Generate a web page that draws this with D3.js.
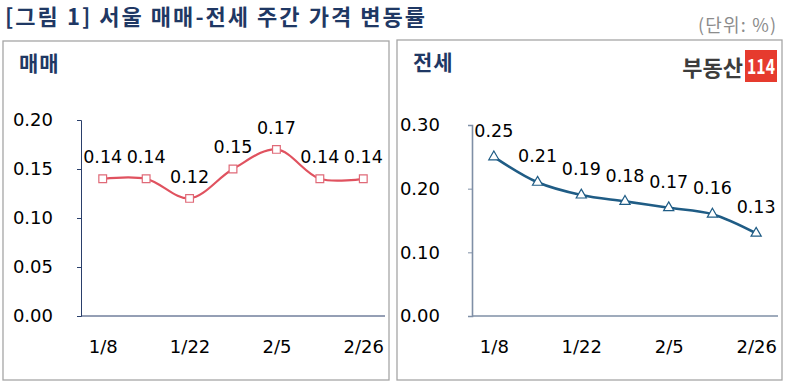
<!DOCTYPE html>
<html>
<head>
  <meta charset="utf-8">
  <title>서울 매매-전세 주간 가격 변동률</title>
  <script src="https://d3js.org/d3.v7.min.js"></script>
</head>
<style>
  body { margin: 0; background: #fff; }
  svg text { font-family: "Noto Sans CJK KR", "Noto Sans", sans-serif; }
  svg text.num { font-family: "DejaVu Sans", sans-serif; }
</style>
<body>
</body>
<script>

  // weeks (2/19 skipped in the source)
  var weeks = ['1/8', '1/15', '1/22', '1/29', '2/5', '2/12', '2/26'];
  var shownWeeks = ['1/8', '1/22', '2/5', '2/26'];

  var saleValues = [0.14, 0.14, 0.12, 0.15, 0.17, 0.14, 0.14];
  var jeonseValues = [0.25, 0.21, 0.19, 0.18, 0.17, 0.16, 0.13];

  var saleTicks = [0, 0.05, 0.10, 0.15, 0.20];
  var jeonseTicks = [0, 0.10, 0.20, 0.30];

  var W = 791, H = 387;
  var navy = '#1f3864';

  var svg = d3.select('body').append('svg')
    .attr('width', W)
    .attr('height', H);

  svg.append('rect').attr('width', W).attr('height', H).attr('fill', '#fff');

  // title + unit
  svg.append('text')
    .attr('x', 5).attr('y', 25)
    .attr('textLength', 420).attr('lengthAdjust', 'spacing')
    .style('font-size', '22px').style('font-weight', 'bold')
    .attr('fill', navy)
    .text('[그림 1] 서울 매매-전세 주간 가격 변동률');

  svg.append('text')
    .attr('x', 698).attr('y', 32)
    .attr('textLength', 78).attr('lengthAdjust', 'spacing')
    .style('font-size', '18px')
    .attr('fill', '#8c8c8c')
    .text('(단위: %)');

  function panel(opt) {
    var g = svg.append('g');

    g.append('rect')
      .attr('x', opt.box[0]).attr('y', opt.box[1])
      .attr('width', opt.box[2]).attr('height', opt.box[3])
      .attr('fill', 'none')
      .attr('stroke', '#a6a6a6')
      .attr('stroke-width', 1.3);

    g.append('text')
      .attr('x', opt.box[0] + 16).attr('y', opt.box[1] + 30)
      .style('font-size', '21px').style('font-weight', 'bold')
      .style('letter-spacing', '1px')
      .attr('fill', navy)
      .text(opt.name);

    var x = d3.scalePoint()
      .domain(weeks)
      .range([opt.left, opt.right])
      .padding(0.5);

    var y = d3.scaleLinear()
      .domain([0, d3.max(opt.ticks)])
      .range([opt.bottom, opt.top]);

    // y axis
    var ya = g.append('g')
      .attr('transform', 'translate(' + opt.left + ',0)')
      .call(d3.axisLeft(y).tickValues(opt.ticks).tickFormat(d3.format('.2f')).tickSize(4).tickPadding(opt.yPad));
    ya.select('.domain').attr('stroke', opt.axisColor).attr('stroke-width', opt.axisWidth);
    ya.selectAll('.tick line').attr('stroke', opt.axisColor);
    ya.selectAll('.tick text')
      .attr('class', 'num')
      .style('font-size', '18px')
      .attr('fill', '#000');

    // x axis
    var xa = g.append('g')
      .attr('transform', 'translate(0,' + opt.bottom + ')')
      .call(d3.axisBottom(x).tickSize(0).tickPadding(24)
        .tickFormat(function(d) { return shownWeeks.indexOf(d) >= 0 ? d : ''; }));
    xa.select('.domain').attr('stroke', opt.axisColor).attr('stroke-width', opt.axisWidth)
      .attr('d', 'M' + opt.left + ',0H' + opt.right);
    xa.selectAll('.tick text')
      .attr('class', 'num')
      .style('font-size', '18px')
      .attr('fill', '#000');

    var line = d3.line()
      .x(function(d, i) { return x(weeks[i]); })
      .y(function(d) { return y(d); })
      .curve(d3.curveCatmullRom.alpha(0.5));

    g.append('path')
      .datum(opt.values)
      .attr('d', line)
      .attr('fill', 'none')
      .attr('stroke', opt.color)
      .attr('stroke-width', opt.lineWidth);

    var sym = d3.symbol().type(opt.symbol).size(opt.symbolSize);
    g.selectAll('.mark')
      .data(opt.values)
      .enter().append('path')
        .attr('class', 'mark')
        .attr('transform', function(d, i) { return 'translate(' + x(weeks[i]) + ',' + y(d) + ')'; })
        .attr('d', sym)
        .attr('fill', '#fff')
        .attr('stroke', opt.markColor)
        .attr('stroke-width', 1.2);

    g.selectAll('.lbl')
      .data(opt.values)
      .enter().append('text')
        .attr('class', 'lbl num')
        .attr('x', function(d, i) { return x(weeks[i]); })
        .attr('y', function(d) { return y(d) - opt.labelOffset; })
        .attr('dy', '0.35em')
        .attr('text-anchor', 'middle')
        .style('font-size', '17.5px')
        .attr('fill', '#000')
        .text(function(d) { return d3.format('.2f')(d); });

    return g;
  }

  panel({
    name: '매매',
    box: [3, 41, 386, 339],
    left: 81, right: 385, top: 120, bottom: 316,
    ticks: saleTicks,
    values: saleValues,
    color: '#e0525f',
    markColor: '#e06a78',
    lineWidth: 2.2,
    symbol: d3.symbolSquare,
    symbolSize: 60,
    axisColor: '#2a3f6b',
    axisWidth: 1,
    yPad: 24,
    labelOffset: 22
  });

  var right = panel({
    name: '전세',
    box: [397, 40, 385, 340],
    left: 472, right: 778, top: 125, bottom: 316,
    ticks: jeonseTicks,
    values: jeonseValues,
    color: '#1f5c85',
    markColor: '#1f5c85',
    lineWidth: 2.6,
    symbol: d3.symbolTriangle,
    symbolSize: 45,
    axisColor: '#7f8fa6',
    axisWidth: 1.6,
    yPad: 28,
    labelOffset: 26
  });

  // logo
  right.append('text')
    .attr('x', 743).attr('y', 76)
    .attr('text-anchor', 'end')
    .style('font-size', '22px').style('font-weight', 'bold')
    .attr('fill', '#3c3c3c')
    .text('부동산');
  right.append('rect')
    .attr('x', 745).attr('y', 50)
    .attr('width', 32).attr('height', 32)
    .attr('fill', '#e63b2e');
  right.append('text')
    .attr('x', 761).attr('y', 74)
    .attr('text-anchor', 'middle')
    .attr('transform', 'translate(761,0) scale(0.75,1) translate(-761,0)')
    .style('font-size', '21px').style('font-weight', 'bold')
    .attr('fill', '#fff')
    .text('114');

</script>
</html>
